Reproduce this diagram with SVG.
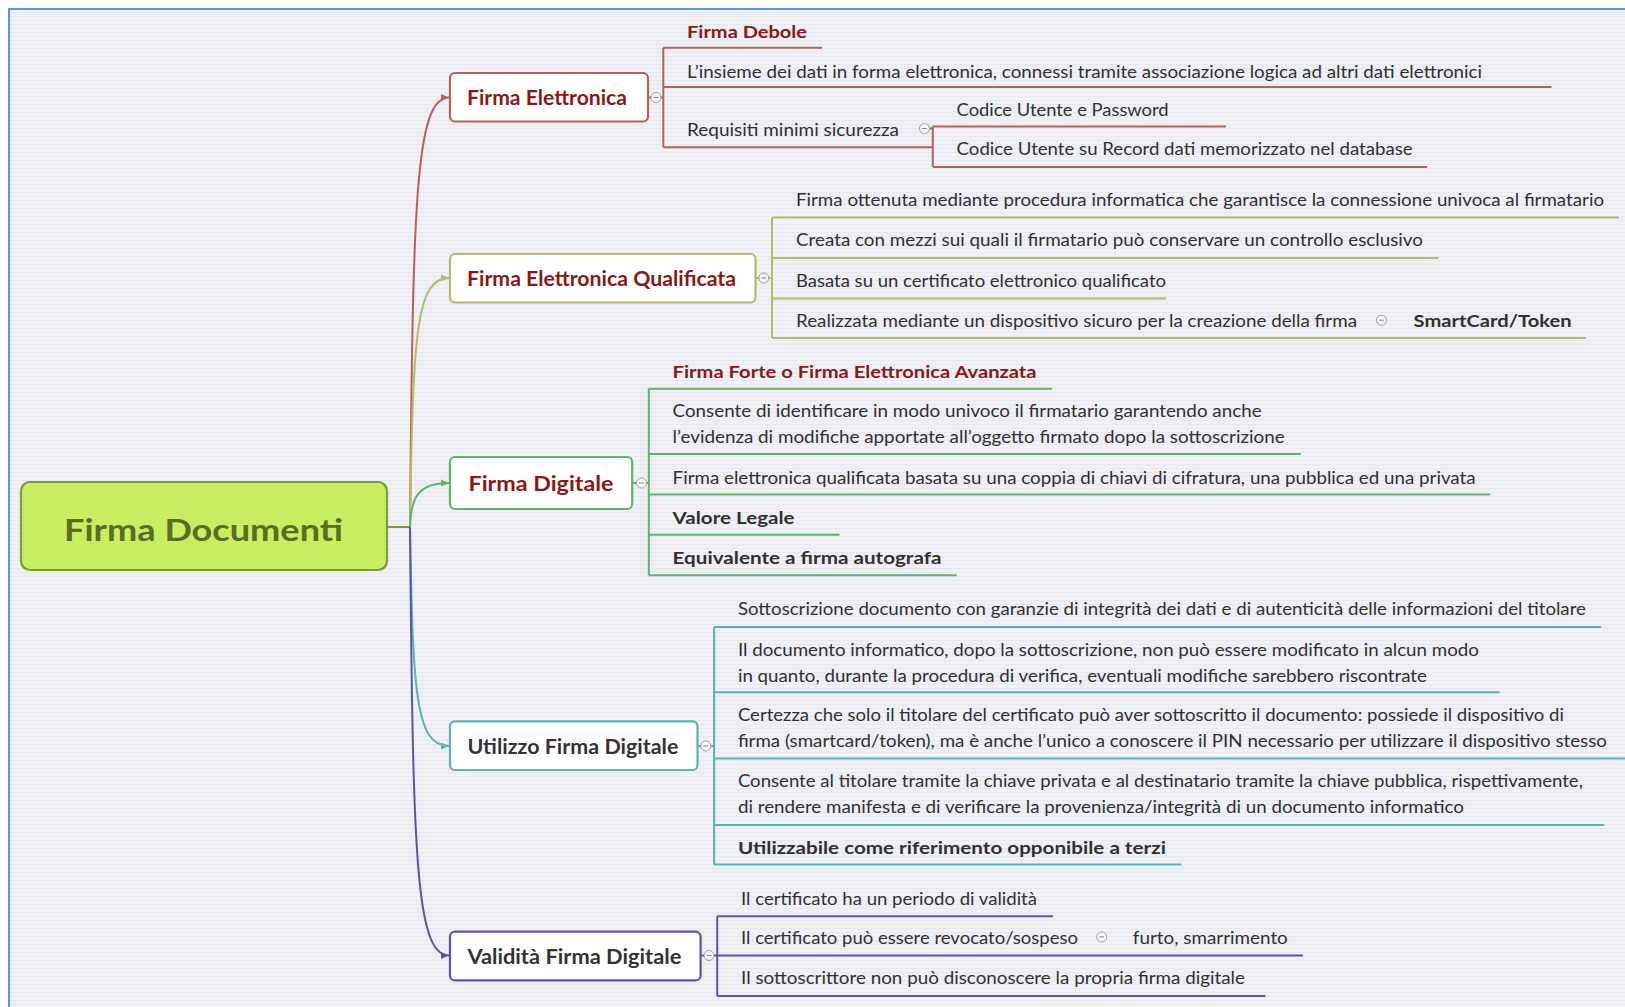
<svg xmlns="http://www.w3.org/2000/svg" width="1625" height="1007" viewBox="0 0 1625 1007">
<style>
.t{font-family:Lato,'Open Sans',sans-serif;font-size:17px;fill:#303030;transform:translateY(1px)}
.b{font-weight:bold}
.dr{fill:#8a1818}
.lbl{font-family:Lato,'Open Sans',sans-serif;font-size:21px;font-weight:bold}
.box{fill:#ffffff;stroke-width:2.2}
.ln{fill:none;stroke-width:2}
.s1{stroke:#b5625c}.s2{stroke:#b9b86c}.s3{stroke:#62b26e}.s4{stroke:#5fb3ae}.s5{stroke:#5d54aa}.s0{stroke:#86993c}
</style>
<defs>
<pattern id="bg" width="8" height="4" patternUnits="userSpaceOnUse">
<rect width="8" height="4" fill="#eff1f5"/>
<rect width="8" height="1" fill="#e7e9ee"/>
</pattern>
<g id="minus"><circle cx="0" cy="0" r="5" fill="#f6f6f6" stroke="#a0a0a0" stroke-width="1"/><path d="M-2.5 0H2.5" stroke="#8a8a8a" stroke-width="1"/></g>
<marker id="a1" viewBox="0 0 8 8" refX="8" refY="4" markerWidth="8" markerHeight="8" markerUnits="userSpaceOnUse" orient="auto"><path d="M0 0.5L8 4L0 7.5z" fill="#b5625c"/></marker>
<marker id="a2" viewBox="0 0 8 8" refX="8" refY="4" markerWidth="8" markerHeight="8" markerUnits="userSpaceOnUse" orient="auto"><path d="M0 0.5L8 4L0 7.5z" fill="#b9b86c"/></marker>
<marker id="a3" viewBox="0 0 8 8" refX="8" refY="4" markerWidth="8" markerHeight="8" markerUnits="userSpaceOnUse" orient="auto"><path d="M0 0.5L8 4L0 7.5z" fill="#62b26e"/></marker>
<marker id="a4" viewBox="0 0 8 8" refX="8" refY="4" markerWidth="8" markerHeight="8" markerUnits="userSpaceOnUse" orient="auto"><path d="M0 0.5L8 4L0 7.5z" fill="#5fb3ae"/></marker>
<marker id="a5" viewBox="0 0 8 8" refX="8" refY="4" markerWidth="8" markerHeight="8" markerUnits="userSpaceOnUse" orient="auto"><path d="M0 0.5L8 4L0 7.5z" fill="#5d54aa"/></marker>
</defs>

<rect x="0" y="0" width="1625" height="1007" fill="#ffffff"/>
<rect x="9" y="9" width="1700" height="1100" fill="url(#bg)" stroke="#5b9bd5" stroke-width="2"/>

<g id="connectors">
<path class="ln s0" d="M387 527H410"/>
<path class="ln s1" d="M410 527C413 205 415 97.5 449 97.5" marker-end="url(#a1)"/>
<path class="ln s2" d="M410 527C413 340 415 278 449 278" marker-end="url(#a2)"/>
<path class="ln s3" d="M410 527C411 500 416 483 449 483" marker-end="url(#a3)"/>
<path class="ln s4" d="M410 527C413 690 415 746 449 746" marker-end="url(#a4)"/>
<path class="ln s5" d="M410 527C413 850 415 955.5 449 955.5" marker-end="url(#a5)"/>
<path class="ln s1" d="M648 97.5H663.3M663.3 47.7V147.2"/>
<path class="ln s1" d="M929.5 128.5H932.8M932.8 126.4V166.9"/>
<path class="ln s2" d="M755.5 278H772M772 217.6V337.9"/>
<path class="ln s3" d="M632.2 483H648.8M648.8 388.7V575.2"/>
<path class="ln s4" d="M697.5 746H714.1M714.1 627V864.4"/>
<path class="ln s5" d="M700.6 955.5H717.2M717.2 916.2V996"/>
</g>

<g id="root">
<rect x="21" y="482" width="366" height="88" rx="9" fill="#c8ef62" stroke="#7b9a3a" stroke-width="2.2"/>
<text x="64" y="541" style="font-family:Lato,'Open Sans',sans-serif;font-size:31px;font-weight:bold;fill:#5a6d20" textLength="279" lengthAdjust="spacingAndGlyphs">Firma Documenti</text>
</g>

<g id="firma-elettronica">
<rect class="box s1" x="450" y="73" width="198" height="48.5" rx="5"/>
<text class="lbl dr" x="467" y="105" textLength="160" lengthAdjust="spacingAndGlyphs">Firma Elettronica</text>
<use href="#minus" x="656" y="97.5"/>
</g>
<g id="fe-debole">
<text class="t b dr" x="687" y="36.5" textLength="120" lengthAdjust="spacingAndGlyphs">Firma Debole</text>
<path class="ln s1" d="M663.3 47.7H822"/>
</g>
<g id="fe-insieme">
<text class="t" x="687" y="76.5" textLength="795" lengthAdjust="spacingAndGlyphs">L’insieme dei dati in forma elettronica, connessi tramite associazione logica ad altri dati elettronici</text>
<path class="ln s1" d="M663.3 87H1551.5"/>
</g>
<g id="fe-requisiti">
<text class="t" x="687" y="134.5" textLength="212" lengthAdjust="spacingAndGlyphs">Requisiti minimi sicurezza</text>
<path class="ln s1" d="M663.3 147.2H932.8"/>
<use href="#minus" x="924.5" y="128.5"/>
</g>
<g id="req-password">
<text class="t" x="956.6" y="114.8" textLength="212" lengthAdjust="spacingAndGlyphs">Codice Utente e Password</text>
<path class="ln s1" d="M932.8 126.4H1226"/>
</g>
<g id="req-record">
<text class="t" x="956.6" y="154.2" textLength="456" lengthAdjust="spacingAndGlyphs">Codice Utente su Record dati memorizzato nel database</text>
<path class="ln s1" d="M932.8 166.9H1427"/>
</g>

<g id="firma-qualificata">
<rect class="box s2" x="450" y="254" width="305.5" height="48.5" rx="5"/>
<text class="lbl dr" x="467" y="286" textLength="269" lengthAdjust="spacingAndGlyphs">Firma Elettronica Qualificata</text>
<use href="#minus" x="763.8" y="278"/>
</g>
<g id="feq-1">
<text class="t" x="796" y="205" textLength="808" lengthAdjust="spacingAndGlyphs">Firma ottenuta mediante procedura informatica che garantisce la connessione univoca al firmatario</text>
<path class="ln s2" d="M772 217.6H1619"/>
</g>
<g id="feq-2">
<text class="t" x="796" y="245.4" textLength="627" lengthAdjust="spacingAndGlyphs">Creata con mezzi sui quali il firmatario può conservare un controllo esclusivo</text>
<path class="ln s2" d="M772 258.1H1438.5"/>
</g>
<g id="feq-3">
<text class="t" x="796" y="285.8" textLength="370" lengthAdjust="spacingAndGlyphs">Basata su un certificato elettronico qualificato</text>
<path class="ln s2" d="M772 298.5H1166"/>
</g>
<g id="feq-4">
<text class="t" x="796" y="326.2" textLength="561" lengthAdjust="spacingAndGlyphs">Realizzata mediante un dispositivo sicuro per la creazione della firma</text>
<path class="ln s2" d="M772 337.9H1390"/>
<use href="#minus" x="1381.5" y="320.2"/>
</g>
<g id="feq-smartcard">
<text class="t b" x="1413.6" y="326.2" textLength="158" lengthAdjust="spacingAndGlyphs">SmartCard/Token</text>
<path class="ln s2" d="M1390 337.9H1586"/>
</g>

<g id="firma-digitale">
<rect class="box s3" x="450" y="457" width="182.2" height="52" rx="5"/>
<text class="lbl dr" x="468.5" y="491" textLength="145" lengthAdjust="spacingAndGlyphs">Firma Digitale</text>
<use href="#minus" x="641.5" y="483"/>
</g>
<g id="fd-forte">
<text class="t b dr" x="672.6" y="377" textLength="364" lengthAdjust="spacingAndGlyphs">Firma Forte o Firma Elettronica Avanzata</text>
<path class="ln s3" d="M648.8 388.7H1052"/>
</g>
<g id="fd-consente">
<text class="t" x="672.6" y="416.4" textLength="589" lengthAdjust="spacingAndGlyphs">Consente di identificare in modo univoco il firmatario garantendo anche</text>
<text class="t" x="672.6" y="442.3" textLength="612" lengthAdjust="spacingAndGlyphs">l’evidenza di modifiche apportate all’oggetto firmato dopo la sottoscrizione</text>
<path class="ln s3" d="M648.8 454H1300.7"/>
</g>
<g id="fd-coppia">
<text class="t" x="672.6" y="482.7" textLength="803" lengthAdjust="spacingAndGlyphs">Firma elettronica qualificata basata su una coppia di chiavi di cifratura, una pubblica ed una privata</text>
<path class="ln s3" d="M648.8 494.4H1490.3"/>
</g>
<g id="fd-valore">
<text class="t b" x="672.6" y="523.2" textLength="122" lengthAdjust="spacingAndGlyphs">Valore Legale</text>
<path class="ln s3" d="M648.8 534.8H839.5"/>
</g>
<g id="fd-equivalente">
<text class="t b" x="672.6" y="562.5" textLength="269" lengthAdjust="spacingAndGlyphs">Equivalente a firma autografa</text>
<path class="ln s3" d="M648.8 575.2H956.6"/>
</g>

<g id="utilizzo-firma-digitale">
<rect class="box s4" x="450" y="721.3" width="247.5" height="48.7" rx="5"/>
<text class="lbl" x="467.4" y="754" style="fill:#333" textLength="211" lengthAdjust="spacingAndGlyphs">Utilizzo Firma Digitale</text>
<use href="#minus" x="705.8" y="746"/>
</g>
<g id="ufd-1">
<text class="t" x="737.9" y="614.4" textLength="848" lengthAdjust="spacingAndGlyphs">Sottoscrizione documento con garanzie di integrità dei dati e di autenticità delle informazioni del titolare</text>
<path class="ln s4" d="M714.1 627H1601.2"/>
</g>
<g id="ufd-2">
<text class="t" x="737.9" y="654.8" textLength="741" lengthAdjust="spacingAndGlyphs">Il documento informatico, dopo la sottoscrizione, non può essere modificato in alcun modo</text>
<text class="t" x="737.9" y="680.7" textLength="689" lengthAdjust="spacingAndGlyphs">in quanto, durante la procedura di verifica, eventuali modifiche sarebbero riscontrate</text>
<path class="ln s4" d="M714.1 692.3H1499.7"/>
</g>
<g id="ufd-3">
<text class="t" x="737.9" y="720.1" textLength="826" lengthAdjust="spacingAndGlyphs">Certezza che solo il titolare del certificato può aver sottoscritto il documento: possiede il dispositivo di</text>
<text class="t" x="737.9" y="746" textLength="869" lengthAdjust="spacingAndGlyphs">firma (smartcard/token), ma è anche l’unico a conoscere il PIN necessario per utilizzare il dispositivo stesso</text>
<path class="ln s4" d="M714.1 758.6H1625"/>
</g>
<g id="ufd-4">
<text class="t" x="737.9" y="786.4" textLength="845" lengthAdjust="spacingAndGlyphs">Consente al titolare tramite la chiave privata e al destinatario tramite la chiave pubblica, rispettivamente,</text>
<text class="t" x="737.9" y="812.3" textLength="726" lengthAdjust="spacingAndGlyphs">di rendere manifesta e di verificare la provenienza/integrità di un documento informatico</text>
<path class="ln s4" d="M714.1 825H1604.3"/>
</g>
<g id="ufd-5">
<text class="t b" x="737.9" y="852.7" textLength="428" lengthAdjust="spacingAndGlyphs">Utilizzabile come riferimento opponibile a terzi</text>
<path class="ln s4" d="M714.1 864.4H1181.5"/>
</g>

<g id="validita-firma-digitale">
<rect class="box s5" x="450" y="931.7" width="250.6" height="48.7" rx="5"/>
<text class="lbl" x="467.4" y="963.5" style="fill:#333" textLength="214" lengthAdjust="spacingAndGlyphs">Validità Firma Digitale</text>
<use href="#minus" x="709" y="955.5"/>
</g>
<g id="vfd-1">
<text class="t" x="741" y="903.5" textLength="296" lengthAdjust="spacingAndGlyphs">Il certificato ha un periodo di validità</text>
<path class="ln s5" d="M717.2 916.2H1053"/>
</g>
<g id="vfd-2">
<text class="t" x="741" y="942.9" textLength="337" lengthAdjust="spacingAndGlyphs">Il certificato può essere revocato/sospeso</text>
<path class="ln s5" d="M717.2 955.5H1110"/>
<use href="#minus" x="1101.7" y="936.9"/>
</g>
<g id="vfd-furto">
<text class="t" x="1132.8" y="942.9" textLength="155" lengthAdjust="spacingAndGlyphs">furto, smarrimento</text>
<path class="ln s5" d="M1110 955.5H1302.8"/>
</g>
<g id="vfd-3">
<text class="t" x="741" y="983.3" textLength="504" lengthAdjust="spacingAndGlyphs">Il sottoscrittore non può disconoscere la propria firma digitale</text>
<path class="ln s5" d="M717.2 996H1265.4"/>
</g>
</svg>
